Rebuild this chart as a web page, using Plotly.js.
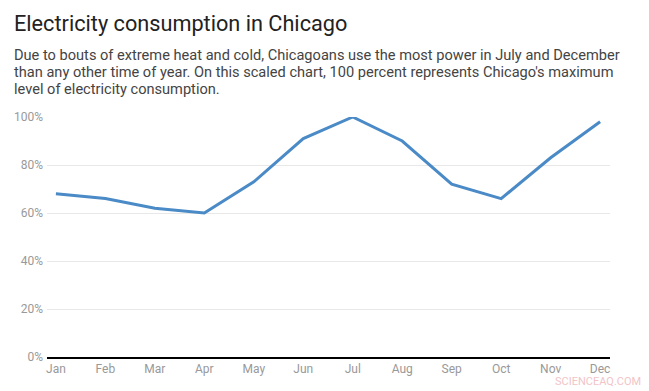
<!DOCTYPE html>
<html><head><meta charset="utf-8">
<script src="https://cdn.plot.ly/plotly-3.0.1.min.js"></script>
<style>html,body{margin:0;padding:0;background:#fff}#c{width:649px;height:391px}</style>
</head><body><div id="c"></div>
<script>
const months = ["Jan","Feb","Mar","Apr","May","Jun","Jul","Aug","Sep","Oct","Nov","Dec"];
const consumption = [68, 66, 62, 60, 73, 91, 100, 90, 72, 66, 83, 98];
const yTicks = [0, 20, 40, 60, 80, 100];
const yTickText = ["0%","20%","40%","60%","80%","100%"];
const titleText = "Electricity consumption in Chicago";
const subtitleLines = [
  "Due to bouts of extreme heat and cold, Chicagoans use the most power in July and December",
  "than any other time of year. On this scaled chart, 100 percent represents Chicago's maximum",
  "level of electricity consumption."
];

const trace = {
  x: months, y: consumption, type: "scatter", mode: "lines",
  line: {color: "#4a8ac6", width: 3}, hoverinfo: "none"
};
const pw = 649 - 47 - 39, ph = 391 - 117 - 34;
function px(x){return (x-47)/pw;} function py(y){return (391-34-y)/ph;}
const annotations = [
  {text: titleText, xref: "paper", yref: "paper", x: px(12), y: py(23),
   xanchor: "left", yanchor: "middle", showarrow: false,
   font: {size: 21.7, color: "#222"}},
  {text: "SCIENCEAQ.COM", xref: "paper", yref: "paper", x: px(553), y: py(381),
   xanchor: "left", yanchor: "middle", showarrow: false,
   font: {size: 11, color: "#f2c4c8"}}
];
const lineY = [55, 72, 89];
subtitleLines.forEach((t, i) => annotations.push({
  text: t, xref: "paper", yref: "paper", x: px(12), y: py(lineY[i]),
  xanchor: "left", yanchor: "middle", align: "left", showarrow: false,
  font: {size: 14.6, color: "#444"}
}));
const layout = {
  width: 649, height: 391,
  margin: {l: 47, r: 39, t: 117, b: 34},
  paper_bgcolor: "#fff", plot_bgcolor: "#fff",
  font: {family: "Roboto, sans-serif", color: "#333"},
  showlegend: false,
  xaxis: {
    type: "category", range: [-0.18, 11.2],
    showgrid: false, zeroline: false,
    showline: true, linecolor: "#000", linewidth: 1.5,
    ticks: "", tickfont: {size: 12, color: "#999"}
  },
  yaxis: {
    range: [0, 100], tickvals: yTicks, ticktext: yTickText,
    showgrid: true, gridcolor: "#e8e8e8", gridwidth: 1,
    zeroline: false, showline: false, ticks: "",
    tickfont: {size: 12, color: "#999"}, ticklabelstandoff: 3
  },
  annotations: annotations
};
Plotly.newPlot("c", [trace], layout, {displayModeBar: false, staticPlot: true});
</script></body></html>
